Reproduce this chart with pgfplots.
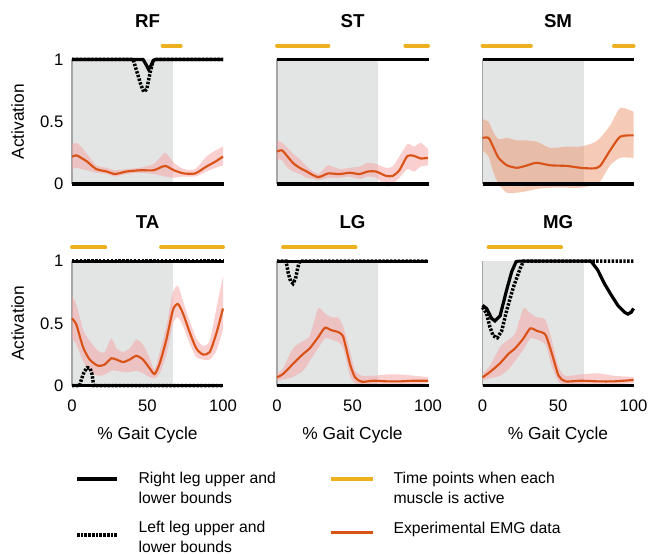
\documentclass[border=0pt]{standalone}
\usepackage{fontspec}
\setmainfont{Liberation Sans}
\usepackage{pgfplots}
\pgfplotsset{compat=1.18}
\usepackage{pgfplotstable}
\usepgfplotslibrary{fillbetween}

\definecolor{shade}{RGB}{227,229,229}
\definecolor{emgc}{RGB}{217,83,25}
\definecolor{actc}{RGB}{237,177,32}
\definecolor{bandpink}{RGB}{245,160,160}
\definecolor{bandpeach}{RGB}{235,150,110}

\pgfplotstableread{
x m lo hi
0 0.22 0.12 0.32
3 0.23 0.13 0.33
6 0.21 0.12 0.30
10 0.18 0.11 0.24
16 0.12 0.09 0.15
23 0.10 0.08 0.13
28.5 0.08 0.06 0.11
36 0.10 0.08 0.12
45 0.11 0.09 0.13
54 0.11 0.08 0.16
58 0.13 0.07 0.21
62 0.145 0.06 0.25
67.5 0.11 0.05 0.17
74 0.085 0.06 0.12
81.6 0.085 0.06 0.12
89 0.14 0.10 0.22
95 0.18 0.13 0.27
100 0.22 0.15 0.30
}\RFdata

\pgfplotstableread{
x m lo hi
0 0.26 0.20 0.35
3.3 0.27 0.19 0.33
7 0.22 0.13 0.29
10.9 0.165 0.10 0.24
15 0.13 0.08 0.20
19.7 0.10 0.05 0.14
24 0.07 0.04 0.10
27.4 0.055 0.03 0.08
31 0.07 0.04 0.12
33.9 0.085 0.05 0.15
41.6 0.08 0.05 0.12
48.1 0.09 0.06 0.13
54.7 0.08 0.04 0.14
60.2 0.10 0.06 0.17
65.6 0.10 0.05 0.16
72.2 0.065 -0.02 0.13
76.6 0.065 0.00 0.14
81 0.11 0.05 0.22
86.4 0.225 0.12 0.32
90.8 0.225 0.10 0.30
95.2 0.205 0.14 0.33
100 0.21 0.15 0.28
}\STdata

\pgfplotstableread{
x m lo hi
0 0.37 0.27 0.52
4 0.37 0.22 0.50
7 0.30 0.10 0.42
10.6 0.21 0.0 0.36
16.1 0.15 -0.07 0.37
22.7 0.13 -0.07 0.35
28.3 0.145 -0.06 0.35
35.8 0.17 -0.04 0.34
44.8 0.15 -0.03 0.29
55.9 0.145 -0.03 0.30
64.7 0.13 -0.03 0.30
73.5 0.125 -0.01 0.33
77.9 0.145 0.02 0.37
84.5 0.27 0.15 0.47
91.2 0.38 0.21 0.61
100 0.39 0.21 0.58
}\SMdata

\pgfplotstableread{
x m lo hi
0 0.54 0.38 0.72
2.9 0.49 0.33 0.65
7.3 0.31 0.20 0.45
11.7 0.21 0.12 0.36
17.2 0.16 0.08 0.28
21.6 0.17 0.09 0.27
26 0.22 0.12 0.38
29.4 0.21 0.12 0.30
33.8 0.19 0.11 0.27
38.2 0.21 0.11 0.30
42.6 0.24 0.12 0.37
47 0.21 0.10 0.33
51.4 0.14 0.07 0.22
54.7 0.094 0.06 0.13
58.1 0.18 0.10 0.27
62.5 0.37 0.25 0.48
66.9 0.61 0.50 0.75
70.2 0.655 0.55 0.80
73.5 0.58 0.48 0.68
77.9 0.43 0.34 0.52
82.3 0.30 0.23 0.38
86.8 0.25 0.21 0.32
91.2 0.27 0.21 0.36
95.6 0.42 0.28 0.62
100 0.62 0.45 0.88
}\TAdata

\pgfplotstableread{
x m lo hi
0 0.067 0.04 0.10
4 0.094 0.05 0.14
10.6 0.175 0.07 0.30
17.3 0.255 0.12 0.36
21.7 0.30 0.20 0.40
27.3 0.39 0.30 0.62
31.7 0.465 0.38 0.58
36.1 0.445 0.37 0.55
40.6 0.43 0.35 0.545
43.9 0.39 0.30 0.47
48.3 0.175 0.08 0.28
51.7 0.067 0.02 0.12
56.1 0.032 0.00 0.08
63.9 0.04 0.00 0.08
72.8 0.035 0.00 0.09
81.6 0.035 0.00 0.09
90.5 0.04 0.01 0.08
100 0.04 0.02 0.07
}\LGdata

\pgfplotstableread{
x m lo hi
0 0.067 0.04 0.10
4.9 0.11 0.06 0.16
11.6 0.18 0.08 0.31
17.1 0.255 0.13 0.37
21.6 0.30 0.20 0.42
27.1 0.38 0.29 0.62
31.6 0.46 0.38 0.58
36 0.44 0.37 0.55
41.6 0.41 0.33 0.53
46 0.255 0.15 0.36
50.4 0.08 0.03 0.15
54.9 0.035 0.00 0.08
64.9 0.04 0.00 0.09
76 0.035 0.00 0.10
87.1 0.035 0.01 0.08
100 0.046 0.02 0.07
}\MGdata

\pgfplotsset{
  panel/.style={
    scale only axis, width=113.25pt, height=116.8pt,
    xmin=0, xmax=100, ymin=-0.1, ymax=1.15, clip=false,
    axis line style={draw=none},
    ytick={0,0.5,1}, xtick={0,50,100},
    ytick pos=left, xtick pos=bottom, tick align=inside,
    major tick length=2.5pt,
    ytick style={black, line width=0.6pt},
    xtick style={draw=none},
    tick label style={font=\fontsize{12.5}{14}\selectfont},
    /pgf/number format/assume math mode=true,
    yticklabel style={xshift=-3pt},
    xticklabel style={yshift=2.2pt},
    anchor=south west,
  },
  rleg/.style={black, line width=2.4pt},
  lleg/.style={black, line width=2.6pt, dash pattern=on 1.8pt off 1.1pt},
  emg/.style={emgc, line width=1.6pt, smooth, tension=0.4},
  act/.style={actc, line width=3pt, line cap=round},
}

\newcommand{\shadeplot}{%
  \addplot[fill=shade, draw=none] coordinates {(0,0)(67,0)(67,1)(0,1)} -- cycle;
  \addplot[gray!70, line width=0.8pt] coordinates {(0,0)(0,1)};
}
\newcommand{\emgplot}[2]{%
  \addplot[name path=hi, draw=none, smooth, tension=0.4] table[x=x,y=hi]{#1};
  \addplot[name path=lo, draw=none, smooth, tension=0.4] table[x=x,y=lo]{#1};
  \addplot[fill=#2, fill opacity=0.5, draw=none] fill between[of=hi and lo, on layer=main];
  \addplot[emg] table[x=x,y=m]{#1};
}
\newcommand{\ttl}[1]{\node[font=\bfseries\fontsize{14}{16}\selectfont] at (axis cs:50,1.31) {#1};}
\newcommand{\ylab}{\node[rotate=90, font=\fontsize{13}{15}\selectfont] at (axis cs:-36,0.5) {Activation};}
\newcommand{\xlab}{\node[font=\fontsize{13}{15}\selectfont] at (axis cs:50,-0.395) {\% Gait Cycle};}

\begin{document}
\begin{tikzpicture}

% RF
\begin{axis}[panel, at={(54pt,-147.34pt)}, xticklabels={}]
\shadeplot
\emgplot{\RFdata}{bandpink}
\addplot[rleg] coordinates {(0,0)(100,0)};
\addplot[lleg] coordinates {(0,0)(100,0)};
\addplot[lleg] coordinates {(0,1)(40.5,1)(43,0.9)(45.5,0.8)(47.5,0.74)(49.5,0.76)(51.5,0.88)(53.5,0.98)(54.5,1)(100,1)};
\addplot[rleg] coordinates {(0,1)(47,1)(49,0.96)(50.7,0.92)(52.3,0.95)(53.8,0.99)(55,1)(100,1)};
\addplot[act] coordinates {(60,1.11)(72,1.11)};
\ttl{RF}\ylab
\end{axis}

% ST
\begin{axis}[panel, at={(207.75pt,-147.34pt)}, xticklabels={}, yticklabels={}]
\shadeplot
\emgplot{\STdata}{bandpink}
\addplot[rleg] coordinates {(0,0)(100,0)};
\addplot[lleg] coordinates {(0,0)(100,0)};
\addplot[lleg] coordinates {(0,1)(100,1)};
\addplot[rleg] coordinates {(0,1)(100,1)};
\addplot[act] coordinates {(0,1.11)(34,1.11)};
\addplot[act] coordinates {(85,1.11)(100,1.11)};
\ttl{ST}
\end{axis}

% SM
\begin{axis}[panel, at={(361.9pt,-147.34pt)}, xticklabels={}, yticklabels={}]
\shadeplot
\emgplot{\SMdata}{bandpeach}
\addplot[rleg] coordinates {(0,0)(100,0)};
\addplot[lleg] coordinates {(0,0)(100,0)};
\addplot[lleg] coordinates {(0,1)(100,1)};
\addplot[rleg] coordinates {(0,1)(100,1)};
\addplot[act] coordinates {(0,1.11)(32,1.11)};
\addplot[act] coordinates {(87,1.11)(100,1.11)};
\ttl{SM}
\end{axis}

% TA
\begin{axis}[panel, at={(54pt,-298.63pt)}]
\shadeplot
\emgplot{\TAdata}{bandpink}
\addplot[rleg] coordinates {(0,0)(100,0)};
\addplot[lleg] coordinates {(0,0)(5,0)(6.5,0.06)(8,0.11)(10,0.145)(12,0.14)(13.3,0.09)(14,0.03)(14.5,0)(100,0)};
\addplot[lleg] coordinates {(0,1)(100,1)};
\addplot[rleg] coordinates {(0,1)(100,1)};
\addplot[act] coordinates {(0,1.11)(22,1.11)};
\addplot[act] coordinates {(59,1.11)(100,1.11)};
\ttl{TA}\ylab\xlab
\end{axis}

% LG
\begin{axis}[panel, at={(207.75pt,-298.63pt)}, yticklabels={}]
\shadeplot
\emgplot{\LGdata}{bandpink}
\addplot[rleg] coordinates {(0,0)(100,0)};
\addplot[lleg] coordinates {(0,0)(100,0)};
\addplot[lleg] coordinates {(0,1)(6,1)(7.5,0.9)(9,0.84)(10.6,0.82)(12.3,0.86)(13.8,0.95)(15,1)(100,1)};
\addplot[rleg] coordinates {(0,1)(100,1)};
\addplot[act] coordinates {(4,1.11)(52,1.11)};
\ttl{LG}\xlab
\end{axis}

% MG
\begin{axis}[panel, at={(361.9pt,-298.63pt)}, yticklabels={}]
\shadeplot
\emgplot{\MGdata}{bandpink}
\addplot[rleg] coordinates {(0,0)(100,0)};
\addplot[lleg] coordinates {(0,0)(100,0)};
\addplot[lleg] coordinates {(0,0.63)(2.7,0.58)(4.9,0.47)(7.1,0.40)(9.8,0.385)(12.7,0.44)(16,0.605)(20.4,0.79)(24.9,0.94)(27.1,1)(100,1)};
\addplot[rleg] coordinates {(0,0.645)(2.7,0.62)(6,0.54)(8.2,0.52)(11.6,0.56)(16,0.77)(19.3,0.915)(22.2,0.995)(23.8,1)(71.8,1)(76.2,0.93)(80.7,0.82)(85.1,0.73)(89.6,0.645)(94,0.59)(96.2,0.575)(98.5,0.59)(100,0.62)};
\addplot[act] coordinates {(4,1.11)(52,1.11)};
\ttl{MG}\xlab
\end{axis}

% Legend
\begin{scope}[font=\fontsize{11.8}{15.2}\selectfont]
\draw[black, line width=3pt] (57.75pt,-359.25pt) -- (87.75pt,-359.25pt);
\node[anchor=west, align=left, inner sep=0pt] at (103.7pt,-365.9pt) {Right leg upper and\\lower bounds};
\draw[black, line width=3pt, dash pattern=on 2pt off 0.8pt] (57.75pt,-401.25pt) -- (87.75pt,-401.25pt);
\node[anchor=west, align=left, inner sep=0pt] at (103.7pt,-402.5pt) {Left leg upper and\\lower bounds};
\draw[actc, line width=2.5pt] (248pt,-359.25pt) -- (280pt,-359.25pt);
\node[anchor=west, align=left, inner sep=0pt] at (295pt,-365.9pt) {Time points when each\\muscle is active};
\draw[emgc, line width=2.5pt] (248pt,-399.2pt) -- (280pt,-399.2pt);
\node[anchor=west, align=left, inner sep=0pt] at (295pt,-396.75pt) {Experimental EMG data};
\end{scope}

\pgfresetboundingbox
\path[use as bounding box] (0,0) rectangle (486.75pt,-416.25pt);
\end{tikzpicture}
\end{document}
